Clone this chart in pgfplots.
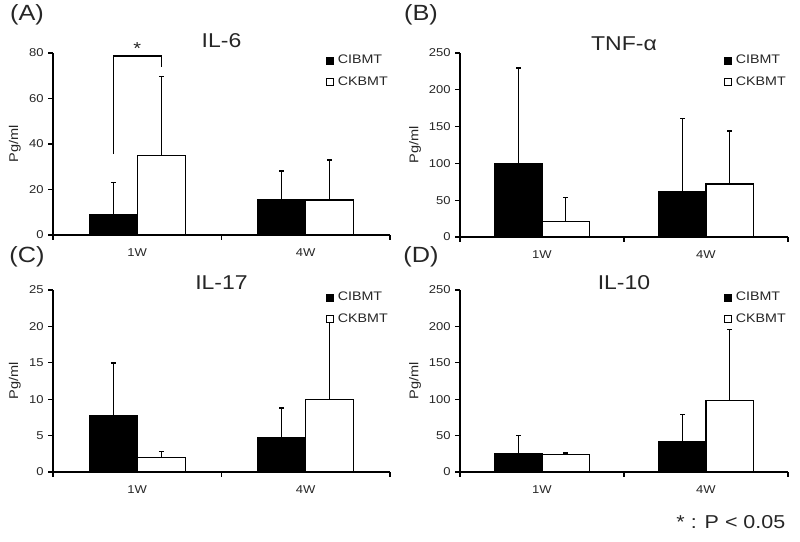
\documentclass[border=0pt]{standalone}
\usepackage{fontspec}
\setmainfont{Liberation Sans}[FakeStretch=1.15]
\usepackage{pgfplots}
\pgfplotsset{compat=1.18}
\definecolor{txt}{HTML}{262626}
\pgfplotsset{
 panel/.style={
  scale only axis,
  anchor=south west,
  clip=false,
  xmin=-0.5, xmax=1.5,
  ymin=0,
  axis x line*=bottom, axis y line*=left,
  axis line style={-, line width=0.9pt, black},
  tick align=outside,
  major tick length=3.5pt,
  tick style={line width=0.9pt, black},
  xtick={-0.5,0.5,1.5}, xticklabels={},
  extra x ticks={0,1}, extra x tick labels={1W,4W},
  extra x tick style={major tick length=0pt, xticklabel style={yshift=-6.5pt}},
  ybar=0pt,
  /pgf/number format/assume math mode=true,
  ticklabel style={font=\fontsize{8.5}{10}\selectfont, text=txt},
  ylabel={Pg/ml},
  ylabel style={font=\fontsize{9.5}{11}\selectfont, text=txt, anchor=center},
  every axis title/.style={at={(0.5,1)}, anchor=center, font=\fontsize{15}{18}\selectfont, text=txt},
  legend style={draw=none, fill=none, at={(1,1)}, anchor=north east,
    font=\fontsize{9.3}{11}\selectfont, text=txt, row sep=5pt, column sep=1.5pt, inner sep=0pt,
    nodes={inner sep=1.5pt}, cells={anchor=west}},
  every axis plot post/.append style={
    legend image code/.code={\draw[##1,/tikz/.cd,line width=0.7pt] (0pt,-2.6pt) rectangle (5.2pt,2.6pt);}},
 },
 blk/.style={draw=black, fill=black, line width=0.9pt,
   error bars/.cd, y dir=plus, y explicit,
   error bar style={line width=1.1pt, black},
   error mark=-,
   error mark options={rotate=90, line width=1.1pt, black, mark size=1.8pt}},
 wht/.style={draw=black, fill=white, line width=0.9pt,
   error bars/.cd, y dir=plus, y explicit,
   error bar style={line width=1.1pt, black},
   error mark=-,
   error mark options={rotate=90, line width=1.1pt, black, mark size=1.8pt}},
}
\begin{document}
\begin{tikzpicture}
\path[use as bounding box] (0pt,0pt) rectangle (600pt,406.5pt);

% (A) IL-6
\begin{axis}[panel, at={(39.75pt,230.25pt)}, width=252.75pt, height=136.5pt,
  bar width=36pt, ymax=80, ytick={0,20,40,60,80},
  title={IL-6}, title style={yshift=9.4pt},
  ylabel style={at={(axis description cs:-0.113,0.5)}}]
\addplot[blk] coordinates {(0,9) +- (0,14) (1,15.4) +- (0,12.8)};
\addplot[wht] coordinates {(0,35) +- (0,34.7) (1,15.4) +- (0,17.6)};
\legend{CIBMT,CKBMT}
\draw[line width=1.1pt] (axis cs:-0.1425,35.5) -- (axis cs:-0.1425,78.6) -- (axis cs:0.1425,78.6) -- (axis cs:0.1425,74);
\node[font=\fontsize{13}{15}\selectfont, text=txt] at (axis cs:0,82) {*};
\end{axis}

% (B) TNF-alpha
\begin{axis}[panel, at={(345pt,228.75pt)}, width=246pt, height=138pt,
  bar width=35.4pt, ymax=250, ytick={0,50,100,150,200,250},
  title={TNF-α}, title style={yshift=7pt},
  ylabel style={at={(axis description cs:-0.137,0.5)}}]
\addplot[blk] coordinates {(0,100) +- (0,129.5) (1,62) +- (0,99)};
\addplot[wht] coordinates {(0,21) +- (0,32.5) (1,72) +- (0,72)};
\legend{CIBMT,CKBMT}
\end{axis}

% (C) IL-17
\begin{axis}[panel, at={(39.75pt,52.5pt)}, width=252.75pt, height=136.5pt,
  bar width=36pt, ymax=25, ytick={0,5,10,15,20,25},
  title={IL-17}, title style={yshift=5.6pt},
  ylabel style={at={(axis description cs:-0.113,0.5)}}]
\addplot[blk] coordinates {(0,7.8) +- (0,7.2) (1,4.7) +- (0,4.1)};
\addplot[wht] coordinates {(0,2.0) +- (0,0.84) (1,10) +- (0,11.1)};
\legend{CIBMT,CKBMT}
\end{axis}

% (D) IL-10
\begin{axis}[panel, at={(345pt,52.5pt)}, width=246pt, height=136.5pt,
  bar width=35.4pt, ymax=250, ytick={0,50,100,150,200,250},
  title={IL-10}, title style={yshift=5.6pt},
  ylabel style={at={(axis description cs:-0.137,0.5)}}]
\addplot[blk] coordinates {(0,25) +- (0,25) (1,42) +- (0,37)};
\addplot[wht] coordinates {(0,24) +- (0,2) (1,98.6) +- (0,97.4)};
\legend{CIBMT,CKBMT}
\end{axis}

\node[font=\fontsize{16.5}{19}\selectfont, text=txt] at (20.25pt,395.25pt) {(A)};
\node[font=\fontsize{16.5}{19}\selectfont, text=txt] at (315.75pt,395.25pt) {(B)};
\node[font=\fontsize{16.5}{19}\selectfont, text=txt] at (20.25pt,213.75pt) {(C)};
\node[font=\fontsize{16.5}{19}\selectfont, text=txt] at (315.75pt,213.75pt) {(D)};
\node[anchor=east, font=\fontsize{14}{16}\selectfont, text=txt] at (592.5pt,15pt) {* : P < 0.05};
\end{tikzpicture}
\end{document}
